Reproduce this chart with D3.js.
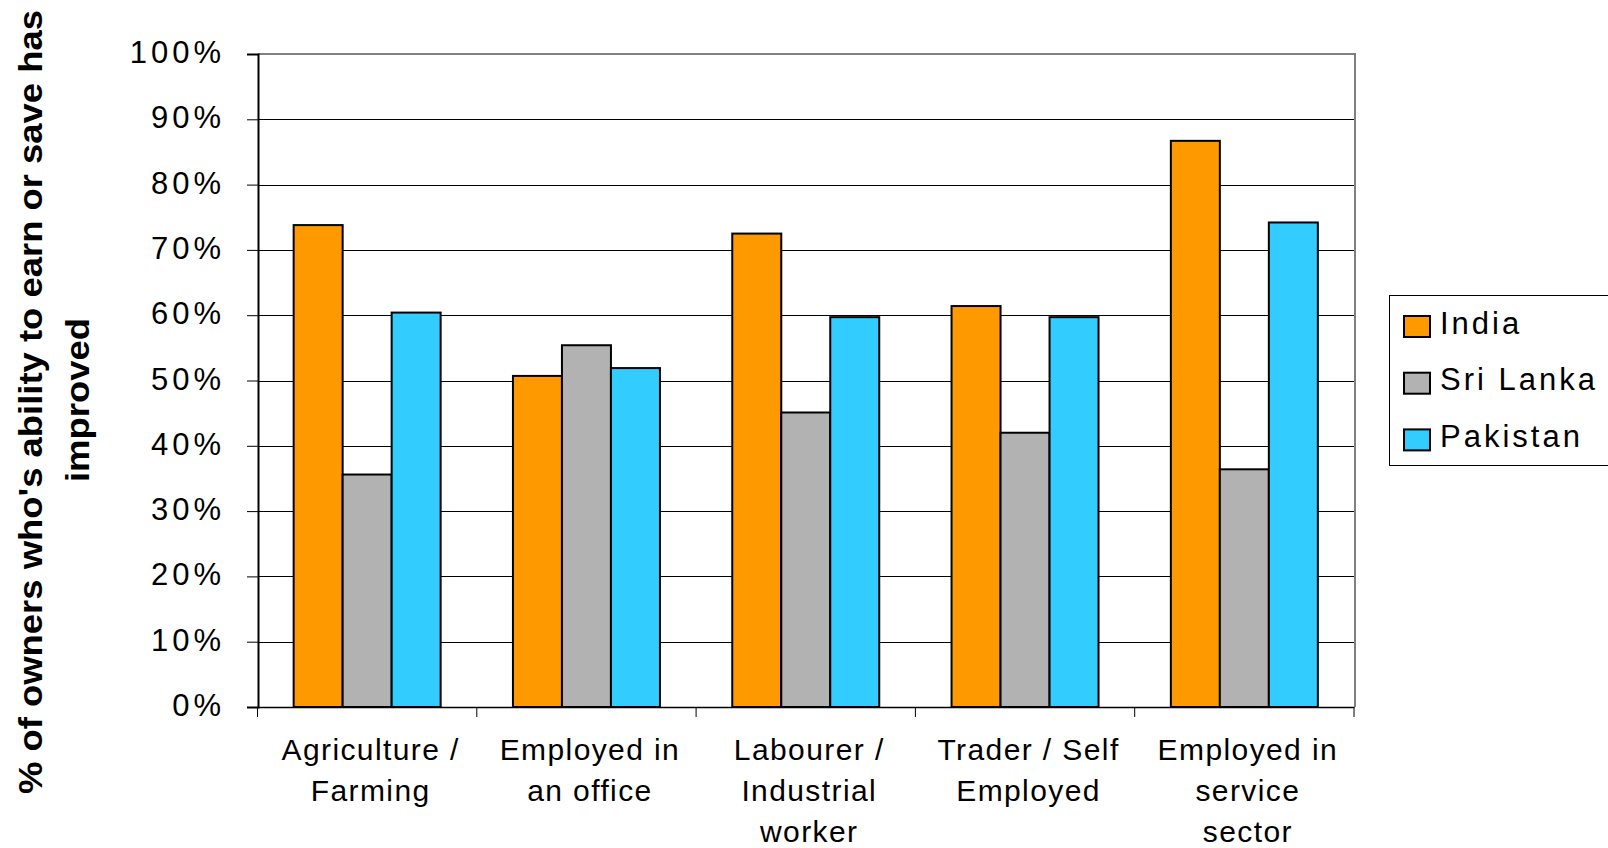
<!DOCTYPE html>
<html>
<head>
<meta charset="utf-8">
<script src="https://cdn.jsdelivr.net/npm/d3@7"></script>
<style>
  html, body { margin: 0; padding: 0; background: #fff; }
  svg { display: block; }
  text { font-family: Arial, "Liberation Sans", sans-serif; fill: #000; }
</style>
</head>
<body>
<svg id="chart" width="1608" height="848"></svg>
<script>
// ---- data ----
const categories = [
  "Agriculture / Farming",
  "Employed in an office",
  "Labourer / Industrial worker",
  "Trader / Self Employed",
  "Employed in service sector"
];
const categoryLines = [
  ["Agriculture /", "Farming"],
  ["Employed in", "an office"],
  ["Labourer /", "Industrial", "worker"],
  ["Trader / Self", "Employed"],
  ["Employed in", "service", "sector"]
];
const seriesNames = ["India", "Sri Lanka", "Pakistan"];
const india    = [73.8, 50.7, 72.5, 61.4, 86.7];
const sriLanka = [35.6, 55.4, 45.1, 42.0, 36.4];
const pakistan = [60.4, 51.9, 59.7, 59.7, 74.2];
const tickValues = [0, 10, 20, 30, 40, 50, 60, 70, 80, 90, 100];
const tickLabels = ["0%", "10%", "20%", "30%", "40%", "50%", "60%", "70%", "80%", "90%", "100%"];
const colors = ["#FF9900", "#B2B2B2", "#33CCFF"];
const yTitle = ["% of owners who's ability to earn or save has", "improved"];

const seriesValues = [india, sriLanka, pakistan];
const rows = categories.map((c, i) => ({
  cat: c,
  vals: seriesNames.map((s, j) => ({ s, v: seriesValues[j][i] }))
}));

// ---- layout ----
const svg = d3.select("#chart");
const L = 258, R = 1355, T = 54, B = 707;

const x0 = d3.scaleBand().domain(categories).range([257.5, 1354]).paddingInner(0).paddingOuter(0);
const x1 = d3.scaleBand().domain(seriesNames).range([0, x0.bandwidth()]).paddingInner(0).paddingOuter(0.738);
const y = d3.scaleLinear().domain([0, 100]).range([B, T]);
const color = d3.scaleOrdinal().domain(seriesNames).range(colors);

// gridlines
svg.append("g").selectAll("line")
  .data(tickValues.filter(v => v > 0 && v < 100))
  .join("line")
  .attr("x1", L).attr("x2", R)
  .attr("y1", d => Math.round(y(d)) + 0.5).attr("y2", d => Math.round(y(d)) + 0.5)
  .attr("stroke", "#000").attr("stroke-width", 1);

// plot border (top/right, gray)
svg.append("path")
  .attr("d", `M${L},${T} H${R} V${B}`)
  .attr("fill", "none").attr("stroke", "#808080").attr("stroke-width", 2);

// bars
const groups = svg.append("g").selectAll("g")
  .data(rows).join("g")
  .attr("transform", d => `translate(${x0(d.cat)},0)`);
groups.selectAll("rect")
  .data(d => d.vals).join("rect")
  .attr("x", d => x1(d.s))
  .attr("width", x1.bandwidth())
  .attr("y", d => y(d.v))
  .attr("height", d => y(0) - y(d.v))
  .attr("fill", d => color(d.s))
  .attr("stroke", "#000").attr("stroke-width", 2);

// y axis
const yAxis = svg.append("g").attr("transform", `translate(${L},0)`)
  .call(d3.axisLeft(y).tickValues(tickValues).tickSize(11).tickFormat((d, i) => tickLabels[i]));
yAxis.select(".domain").attr("stroke", "#000").attr("stroke-width", 2);
yAxis.selectAll(".tick line").attr("stroke", "#000");
yAxis.selectAll(".tick text")
  .attr("x", -33).attr("dy", "8.5")
  .attr("font-size", 31).attr("letter-spacing", 4)
  .attr("font-family", "Arial, 'Liberation Sans', sans-serif")
  .attr("text-anchor", "end");

// x axis
const xAxis = svg.append("g").attr("transform", `translate(0,${B})`)
  .call(d3.axisBottom(x0).tickSize(0).tickFormat(""));
xAxis.select(".domain").attr("stroke", "#000").attr("stroke-width", 1.5);
const bounds = categories.map(c => x0(c)).concat([x0.range()[1]]);
xAxis.append("g").selectAll("line").data(bounds).join("line")
  .attr("x1", d => d).attr("x2", d => d).attr("y1", 0).attr("y2", 10)
  .attr("stroke", "#000").attr("stroke-width", 1);

// category labels
const catG = svg.append("g");
categoryLines.forEach((lines, i) => {
  const cx = x0(categories[i]) + x0.bandwidth() / 2 + 3.5;
  const t = catG.append("text")
    .attr("text-anchor", "middle")
    .attr("font-size", 30)
    .attr("letter-spacing", 1.4);
  lines.forEach((ln, k) => {
    t.append("tspan").attr("x", cx).attr("y", 760 + k * 41).text(ln);
  });
});

// y title
const tg = svg.append("g");
tg.append("text")
  .attr("transform", "translate(42,402) rotate(-90)")
  .attr("text-anchor", "middle")
  .attr("font-size", 33).attr("font-weight", "bold")
  .attr("font-family", "'Liberation Sans Narrow', 'Arial Narrow', Arial, sans-serif")
  .attr("textLength", 784).attr("lengthAdjust", "spacingAndGlyphs")
  .text(yTitle[0]);
tg.append("text")
  .attr("transform", "translate(89,400) rotate(-90)")
  .attr("text-anchor", "middle")
  .attr("font-size", 33).attr("font-weight", "bold")
  .attr("font-family", "'Liberation Sans Narrow', 'Arial Narrow', Arial, sans-serif")
  .attr("textLength", 164).attr("lengthAdjust", "spacingAndGlyphs")
  .text(yTitle[1]);

// legend
const lg = svg.append("g");
lg.append("rect")
  .attr("x", 1389.5).attr("y", 295.5).attr("width", 230).attr("height", 170)
  .attr("fill", "#fff").attr("stroke", "#000").attr("stroke-width", 1);
const items = lg.selectAll("g.item").data(seriesNames).join("g")
  .attr("class", "item")
  .attr("transform", (d, i) => `translate(0,${i * 56.7})`);
items.append("rect")
  .attr("x", 1404).attr("y", 316).attr("width", 26).attr("height", 21)
  .attr("fill", d => color(d)).attr("stroke", "#000").attr("stroke-width", 2);
items.append("text")
  .attr("x", 1440).attr("y", 333.5)
  .attr("font-size", 31).attr("letter-spacing", 3)
  .text(d => d);
</script>
</body>
</html>
